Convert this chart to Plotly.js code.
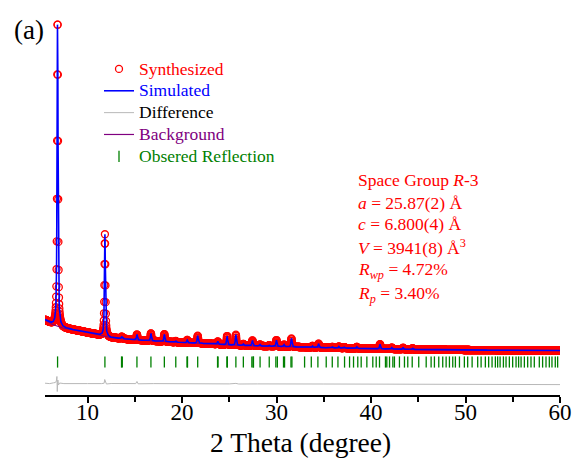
<!DOCTYPE html>
<html>
<head>
<meta charset="utf-8">
<script src="https://cdn.plot.ly/plotly-3.0.1.min.js"></script>
<style>
  html, body { margin: 0; padding: 0; background: #fff; }
  #chart { width: 578px; height: 465px; }
</style>
</head>
<body>
<div id="chart"></div>
<script>
// Scan range (degrees 2θ) and step of the measured pattern
const scanStart = 5.5;
const scanEnd = 60;
const scanStep = 0.02;

// Refined background (2θ, counts)
const bgTwoTheta = [5.5, 6.3, 7.4, 9.2, 11.0, 12.4, 14.5, 17.0, 19.8, 22.5, 25.0, 27.5,
  30.3, 33.0, 35.6, 38.0, 40.9, 43.5, 46.2, 50.0, 55.0, 60.0];
const bgCounts = [5800, 5350, 5000, 4700, 4350, 4050, 3850, 3700, 3550, 3450, 3300, 3220,
  3150, 3080, 3020, 2970, 2920, 2870, 2840, 2800, 2770, 2750];

// Bragg peaks: position (2θ) and height above background (counts)
const peakTwoTheta = [6.83, 11.84, 13.60, 13.68, 15.23, 16.71, 18.13, 19.34, 20.55, 21.66,
  23.78, 24.77, 25.70, 26.49, 27.45, 28.26, 29.23, 29.99, 30.80, 31.58,
  33.80, 34.45, 35.90, 36.60, 37.20, 38.50, 40.95, 42.20, 43.40, 44.40];
const peakHeight = [30900, 10200, 150, 100, 550, 750, 750, 120, 280, 750,
  280, 900, 1050, 150, 550, 150, 100, 650, 200, 850,
  150, 400, 100, 150, 100, 150, 480, 150, 150, 120];
const peakFwhm = 0.12;   // degrees
const peakEta = 0.65;    // Lorentzian fraction of the pseudo-Voigt

// Difference (observed - calculated), shifted below the pattern
const diffTwoTheta = [5.5, 6.0, 6.4, 6.6, 6.70, 6.76, 6.80, 6.86, 6.92, 7.05, 7.5, 8.5, 10.0,
  11.5, 11.76, 11.82, 11.88, 12.0, 12.5, 14.0, 15.1, 15.23, 15.35, 17.0, 20.0, 22.0,
  25.0, 25.7, 26.0, 28.0, 31.6, 32.0, 35.0, 40.0, 45.0, 50.0, 55.0, 60.0];
const diffCounts = [-520, -560, -480, -450, -300, 150, -1350, -200, -700, -500, -560, -540, -560,
  -560, -520, -150, -420, -600, -550, -570, -560, -350, -580, -560, -580, -570,
  -590, -540, -600, -590, -570, -600, -600, -610, -620, -640, -650, -660];

// Allowed reflections of the R-3 cell (2θ)
const reflTwoTheta = [6.83, 11.84, 13.60, 13.68, 15.23, 16.71, 18.13, 19.34, 20.53, 20.58,
  21.66, 23.76, 23.81, 24.75, 24.80, 25.70, 26.49, 27.39, 27.52, 27.56, 28.26, 29.23,
  29.93, 30.09, 30.74, 30.85, 31.53, 31.63, 32.97, 33.68, 34.38, 35.26, 35.90, 36.50,
  37.20, 37.73, 38.15, 38.60, 38.96, 39.56, 40.19, 40.55, 40.90, 41.53, 41.67, 41.96,
  42.31, 42.48, 43.01, 43.54, 43.89, 44.36, 45.05, 45.84, 46.36, 46.71, 47.17, 47.59,
  47.95, 48.30, 48.65, 48.93, 49.36, 49.88, 50.23, 50.70, 51.29, 51.65, 52.10, 52.45,
  52.81, 53.16, 53.40, 53.66, 54.01, 54.29, 54.64, 54.99, 55.35, 55.62, 55.88, 56.23,
  56.58, 56.93, 57.28, 57.81, 58.16, 58.52, 58.87, 59.15, 59.50, 59.75];
const reflLevel = 1600;

// ---- profile evaluation ----
function lerp(xs, ys, x) {
  if (x <= xs[0]) return ys[0];
  for (let i = 1; i < xs.length; i++) {
    if (x <= xs[i]) {
      const t = (x - xs[i - 1]) / (xs[i] - xs[i - 1]);
      return ys[i - 1] + t * (ys[i] - ys[i - 1]);
    }
  }
  return ys[ys.length - 1];
}

function profileAt(x) {
  let y = lerp(bgTwoTheta, bgCounts, x);
  for (let k = 0; k < peakTwoTheta.length; k++) {
    const d = (x - peakTwoTheta[k]) / peakFwhm;
    const q = 4 * d * d;
    y += peakHeight[k] * (peakEta / (1 + q) + (1 - peakEta) * Math.exp(-Math.LN2 * q));
  }
  return y;
}

const scanX = [];
const scanY = [];
const nSteps = Math.round((scanEnd - scanStart) / scanStep);
for (let i = 0; i <= nSteps; i++) {
  const x = +(scanStart + i * scanStep).toFixed(3);
  scanX.push(x);
  scanY.push(profileAt(x));
}

const serif = 'Liberation Serif, Times New Roman, Times, serif';
const legendName = (txt, col) =>
  '<span style="color:' + col + ';font-size:17.5px">' + txt + '</span>';

const traces = [
  {
    type: 'scatter', mode: 'lines', name: legendName('Difference', '#000000'),
    x: diffTwoTheta, y: diffCounts, legendrank: 3,
    line: { color: '#b8b8b8', width: 1 }
  },
  {
    type: 'scatter', mode: 'markers', name: legendName('Obsered Reflection', '#008000'),
    x: reflTwoTheta, y: reflTwoTheta.map(() => reflLevel), legendrank: 5,
    marker: { symbol: 'line-ns', size: 8, color: '#008000', line: { color: '#008000', width: 1.3 } }
  },
  {
    type: 'scatter', mode: 'markers', name: legendName('Synthesized', '#ff0000'),
    x: scanX, y: scanY, legendrank: 1,
    marker: { symbol: 'circle-open', size: 7, color: '#ff0000', line: { color: '#ff0000', width: 1.3 } }
  },
  {
    type: 'scatter', mode: 'lines', name: legendName('Background', '#800080'),
    x: bgTwoTheta, y: bgCounts, legendrank: 4,
    line: { color: '#800080', width: 1.2 }
  },
  {
    type: 'scatter', mode: 'lines', name: legendName('Simulated', '#0000ff'),
    x: scanX, y: scanY, legendrank: 2,
    line: { color: '#0000ff', width: 1.6 }
  }
];

// plot frame: left 45, right 560, top 10, bottom 395 (px)
const px = v => (v - 45) / 515;
const py = v => (395 - v) / 385;
const red = '#ff0000';
const infoLines = [
  'Space Group <i>R</i>-3',
  '<i>a</i> = 25.87(2) Å',
  '<i>c</i> = 6.800(4) Å',
  '<i>V</i> = 3941(8) Å<sup>3</sup>',
  '<i>R</i><sub><i>wp</i></sub> = 4.72%',
  '<i>R</i><sub><i>p</i></sub> = 3.40%'
];
const infoY = [180, 202.5, 224, 246.5, 270, 294];
const annotations = infoLines.map((t, i) => ({
  xref: 'paper', yref: 'paper', x: px(356), y: py(infoY[i]),
  xanchor: 'left', yanchor: 'middle', showarrow: false, text: t,
  font: { family: serif, size: 17.5, color: red }
}));
annotations.push({
  xref: 'paper', yref: 'paper', x: px(29), y: py(30), xanchor: 'center', yanchor: 'middle',
  showarrow: false, text: '(a)', font: { family: serif, size: 27, color: '#000' }
});
// x-axis title
annotations.push({
  xref: 'paper', yref: 'paper', x: px(300), y: py(442), xanchor: 'center', yanchor: 'middle',
  showarrow: false, text: '2 Theta (degree)', font: { family: serif, size: 27.5, color: '#000' }
});

const layout = {
  width: 578, height: 465,
  margin: { l: 45, r: 18, t: 10, b: 70 },
  paper_bgcolor: '#ffffff', plot_bgcolor: '#ffffff',
  font: { family: serif, color: '#000' },
  showlegend: true,
  legend: {
    x: px(99), y: py(53), xanchor: 'left', yanchor: 'top',
    bgcolor: 'rgba(0,0,0,0)', borderwidth: 0,
    font: { family: serif, size: 14.5, color: '#000' },
    tracegroupgap: 0, itemwidth: 30
  },
  xaxis: {
    range: [scanStart, scanEnd],
    tickvals: [10, 20, 30, 40, 50, 60],
    ticks: 'outside', ticklen: 6, tickwidth: 2, tickcolor: '#000',
    minor: { tickvals: [15, 25, 35, 45, 55], ticks: 'outside', ticklen: 5, tickwidth: 2, tickcolor: '#000' },
    showline: true, linewidth: 2, linecolor: '#000',
    showgrid: false, zeroline: false,
    ticklabelstandoff: -11,
    tickfont: { family: serif, size: 23, color: '#000' }
  },
  yaxis: {
    range: [-1700, 36800], visible: false, showgrid: false, zeroline: false, fixedrange: true
  },
  annotations: annotations
};

Plotly.newPlot('chart', traces, layout, { displayModeBar: false, staticPlot: true });
</script>
</body>
</html>
